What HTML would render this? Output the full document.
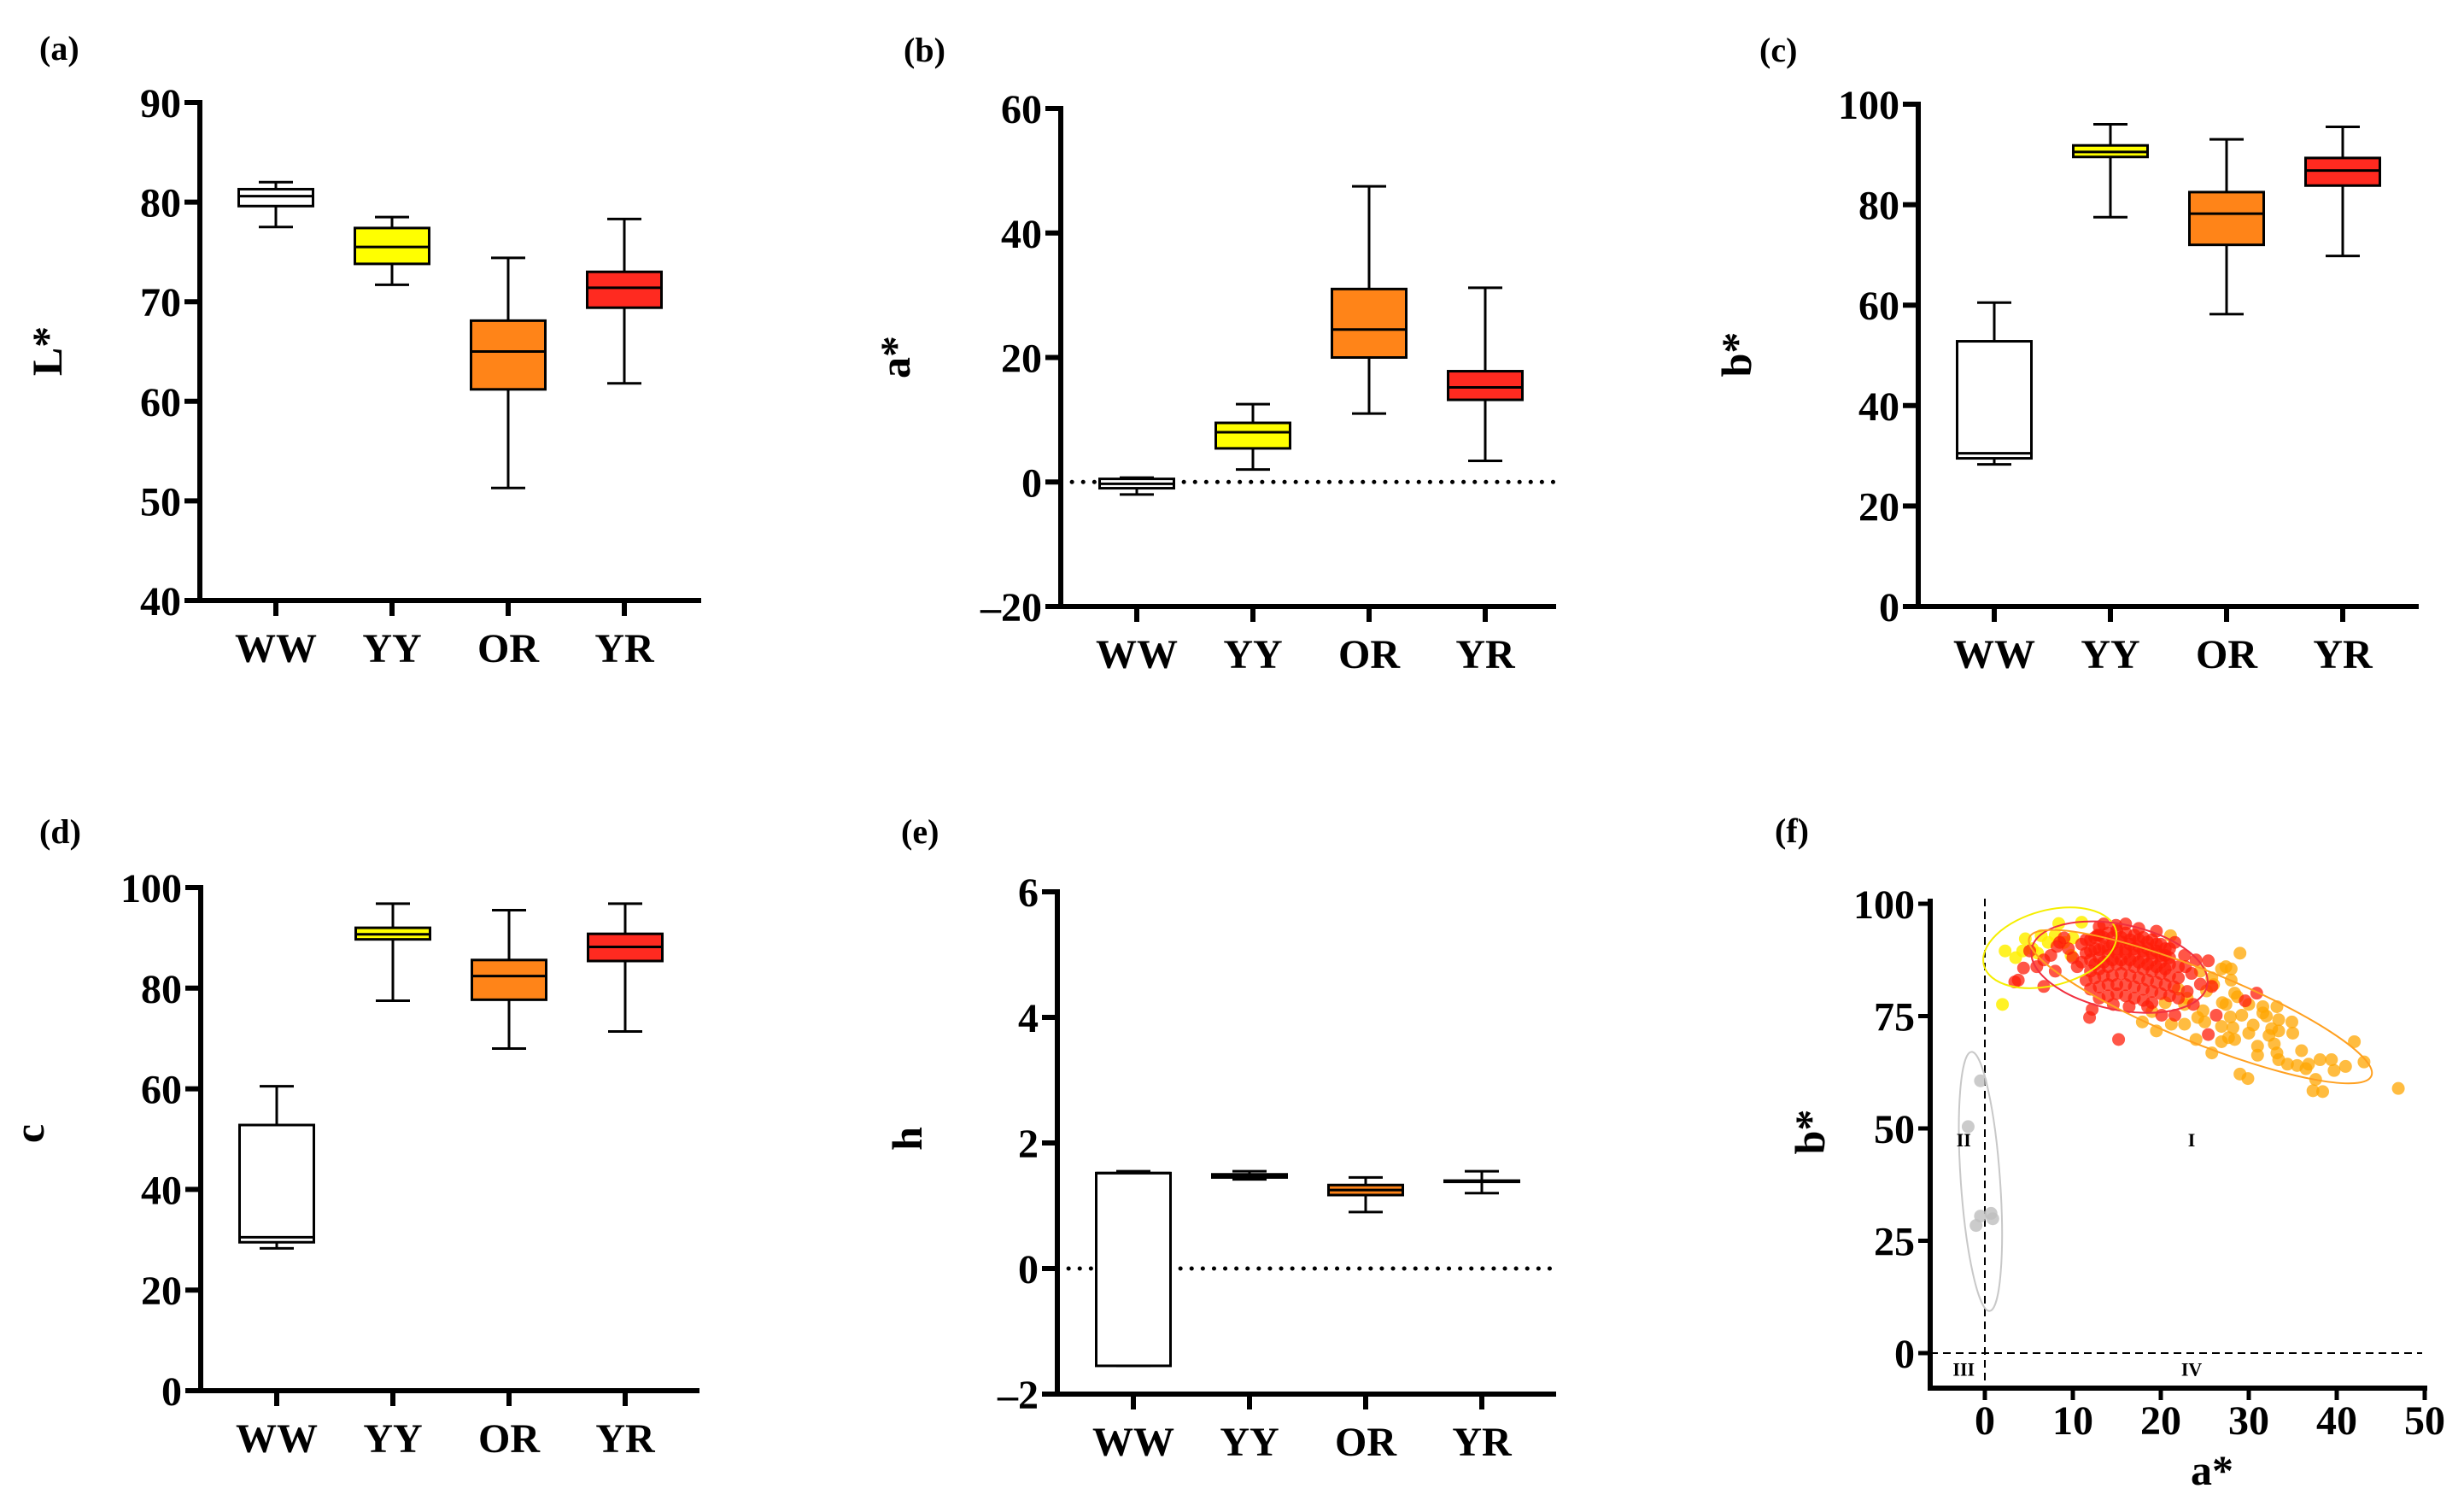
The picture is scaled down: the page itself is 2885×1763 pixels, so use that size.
<!DOCTYPE html>
<html><head><meta charset="utf-8"><style>
html,body{margin:0;padding:0;background:#fff}
svg{display:block;font-family:"Liberation Serif",serif;font-weight:bold}
</style></head><body>
<svg id="fig" width="2885" height="1763" viewBox="0 0 2885 1763" xmlns="http://www.w3.org/2000/svg" font-family="Liberation Serif, serif" font-weight="bold"></svg>
<script>
const cats=["WW","YY","OR","YR"];
const fills=["#ffffff","#ffff00","#ff8418","#ff2a20"];
// (a) L*
const lowA=[77.5,71.7,51.3,61.8], q1A=[79.6,73.8,61.2,69.4], medA=[80.6,75.5,65,71.4], q3A=[81.3,77.4,68.1,73], highA=[82,78.5,74.4,78.3];
const ticksA=[40,50,60,70,80,90];
// (b) a*
const lowB=[-2,2,11,3.4], q1B=[-1,5.4,20,13.2], medB=[-0.3,8,24.5,15.2], q3B=[0.5,9.5,31,17.8], highB=[0.7,12.5,47.5,31.2];
const ticksB=[-20,0,20,40,60];
// (c) b*
const lowC=[28.3,77.5,58.2,69.8], q1C=[29.5,89.5,72,83.8], medC=[30.5,90.5,78.2,86.8], q3C=[52.8,91.8,82.5,89.3], highC=[60.5,96,93,95.5];
const ticksC=[0,20,40,60,80,100];
// (d) c
const lowD=[28.3,77.5,68,71.4], q1D=[29.5,89.7,77.7,85.4], medD=[30.5,90.7,82.4,88.2], q3D=[52.8,92,85.6,90.8], highD=[60.5,96.8,95.5,96.8];
const ticksD=[0,20,40,60,80,100];
// (e) h
const lowE=[-1.55,1.42,0.9,1.2], q1E=[-1.55,1.45,1.17,1.38], medE=[1.52,1.48,1.25,1.39], q3E=[1.52,1.5,1.33,1.4], highE=[1.55,1.55,1.45,1.55];
const ticksE=[-2,0,2,4,6];
// (f) scatter a* vs b*
const fTicksX=[0,10,20,30,40,50];
const fTicksY=[0,25,50,75,100];
const grayA=[-0.5,-1.9,-1,-0.5,0.7,0.9];
const grayB=[60.6,50.4,28.4,30.5,31.1,29.9];
const yelA=[2.3,2,4.6,4.3,6.4,8.4,11,7.2,5.4,9,10,9.8,3.5,6,8];
const yelB=[89.5,77.6,92.2,89.5,92.9,95.6,95.9,91.4,90,91.4,92.4,88.5,88,89,93];
const orA=[29,26.9,27.4,28,25.8,28.4,28.7,30,31.6,33.2,31.6,33.4,34.9,35,33.4,32.6,32.3,32.9,31,31,33.2,33.4,34.4,36,36.8,36.5,38.1,39.4,39.7,41,42,43.1,37.3,38.4,37.6,29,29.9,25.8,26.9,27.7,28.4,28.2,27.9,26.9,24,22.7,21.2,19.5,17.9,47,24.8,24.2,25,25.2,22.7,21.1,27.4,29.2,30,23,22,26,20.5,19,24.5,28,30.5,35.5,27,32];
const orB=[89,85.5,86,85.5,83.5,80.1,79.3,77.6,77.1,77.1,75.7,74.2,73.7,71.2,71.7,72.2,70.7,68.8,68.3,66.3,66.8,65.3,64.3,67.3,64.3,63.3,65.3,65.3,62.9,63.8,69.3,64.8,58.4,58.2,60.9,62.1,61.1,66.8,69.3,70.2,69.8,72.4,74.8,72.7,69.8,73.2,73.2,71.7,73.7,58.9,76.2,74.7,73.7,80.6,77.6,92.9,77.6,75.2,71.2,79,81,82,78,76,85,83,73,64,78,75];
const redA=[3.4,3.8,4.4,5.1,6.7,5.9,8,6.7,8.5,9,11.9,12.2,15.2,14.9,13,25.4,30.9,29.6,25.4,26.3,21.6,20.1,23.7,25.8,24.5,21.6,22.7,19.5,18.5,16.4,14.6,
11,12,13,14,15,16,17,18,19,20,21,
11.5,12.5,13.5,14.5,15.5,16.5,17.5,18.5,19.5,20.5,
11,12,13,14,15,16,17,18,19,20,21,22,
12,13,14,15,16,17,18,19,20,21,22,
11.5,12.5,13.5,14.5,15.5,16.5,17.5,18.5,19.5,20.5,21.5,
12,13,14,15,16,17,18,19,20,21,
13,14,15,16,17,18,19,22,23,
10,9.5,10.5,7.5,8.2,23.5,22.8,24,17.5,16,13.5,12.8,
11.5,12.5,13.5,14.5,15.5,16.5,17.5,18.5,19.5,20.5,
12,13,14,15,16,17,18,19,20,21,
12.5,13.5,14.5,15.5,16.5,17.5,18.5,19.5,20.5];
const redB=[82.6,83,85.7,89.5,81.6,86,85,87.5,91.4,92.4,74.7,76.5,69.8,95.2,94.9,87.3,80.1,78.4,70.9,75.2,75.2,75.2,77.6,81.6,82.1,91.4,88.5,93.9,77.1,77.1,77.6,
91,92,93,93.5,94,93.5,93,92.5,92,91,90,
89,90,90.5,91,91.5,91,90.5,90,89.5,88.5,
87,87.5,88,88.5,89,89,88.5,88,87.5,87,86.5,86,
85,85.5,86,86.5,86.5,86,85.5,85,84.5,84,83.5,
83,83.5,84,84,84.5,84,83.5,83,82.5,82,81.5,
81,81.5,82,82,82,81.5,81,80.5,80,79.5,
79,79.5,80,79.5,79,78.5,78,79,80.5,
88,90,86,88.5,90.5,84.5,86,87.5,94.5,95.5,95.5,93,
92,92.5,92.5,92.5,92.5,92,92,91.5,91,90,
89.5,89.8,90,90,90,90,89.5,89,88.5,88,
86.5,87,87.5,87.5,87.5,87,86.5,86,85.5];

const NS="http://www.w3.org/2000/svg";
const svg=document.getElementById('fig');
function mk(tag,attrs,parent){const e=document.createElementNS(NS,tag);for(const k in attrs)e.setAttribute(k,attrs[k]);(parent||svg).appendChild(e);return e;}
function txt(s,attrs,parent){const e=mk('text',attrs,parent);e.textContent=s;return e;}

function boxPanel(cfg){
  const g=mk('g',{});
  
  
  const ys=v=>cfg.yBot+(v-cfg.vMin)/(cfg.vMax-cfg.vMin)*(cfg.yTop-cfg.yBot);
  const cx=i=>cfg.ax+89+i*136;
  if(cfg.zero){const z=mk('line',{x1:cfg.ax,x2:cfg.right,y1:ys(0),y2:ys(0),stroke:'#000','stroke-width':5,'stroke-dasharray':'0.1 13','stroke-linecap':'round'},g);
    }
  cats.forEach((c,i)=>{
    const bg=mk('g',{},g);
    
    
    const x=cx(i),w=87,cw=40;
    mk('line',{x1:x,x2:x,y1:ys(cfg.hi[i]),y2:ys(cfg.q3[i]),stroke:'#000','stroke-width':3},bg);
    mk('line',{x1:x,x2:x,y1:ys(cfg.lo[i]),y2:ys(cfg.q1[i]),stroke:'#000','stroke-width':3},bg);
    mk('line',{x1:x-cw/2,x2:x+cw/2,y1:ys(cfg.hi[i]),y2:ys(cfg.hi[i]),stroke:'#000','stroke-width':3},bg);
    mk('line',{x1:x-cw/2,x2:x+cw/2,y1:ys(cfg.lo[i]),y2:ys(cfg.lo[i]),stroke:'#000','stroke-width':3},bg);
    mk('rect',{x:x-w/2,y:ys(cfg.q3[i]),width:w,height:Math.max(1,ys(cfg.q1[i])-ys(cfg.q3[i])),fill:fills[i],stroke:'#000','stroke-width':3},bg);
    mk('line',{x1:x-w/2,x2:x+w/2,y1:ys(cfg.med[i]),y2:ys(cfg.med[i]),stroke:'#000','stroke-width':3},bg);
    mk('line',{x1:x,x2:x,y1:cfg.yBot,y2:cfg.yBot+18,stroke:'#000','stroke-width':6},g);
    const t=txt(c,{x:x,y:cfg.yBot+72,'font-size':48,'text-anchor':'middle'},g);
    
    
  });
  const ya=mk('line',{x1:cfg.ax,x2:cfg.ax,y1:cfg.yTop-3,y2:cfg.yBot+3,stroke:'#000','stroke-width':6},g);
  
  const xa=mk('line',{x1:cfg.ax-3,x2:cfg.right,y1:cfg.yBot,y2:cfg.yBot,stroke:'#000','stroke-width':6},g);
  
  cfg.ticks.forEach(v=>{
    mk('line',{x1:cfg.ax-18,x2:cfg.ax,y1:ys(v),y2:ys(v),stroke:'#000','stroke-width':6},g);
    const t=txt((v<0?'\u2013'+(-v):String(v)),{x:cfg.ax-22,y:ys(v)+17,'font-size':48,'text-anchor':'end'},g);
    
    
  });
  const yt=txt(cfg.title,{transform:`translate(${cfg.tx+16},${cfg.ty}) rotate(-90)`,'font-size':50,'text-anchor':'middle'},g);
  
  const pl=txt(cfg.label,{x:cfg.lx,y:cfg.ly,'font-size':40},g);
  
}

boxPanel({name:'panel-a-lightness',ax:234,right:821,yBot:703,yTop:120,vMin:40,vMax:90,ticks:ticksA,lo:lowA,q1:q1A,med:medA,q3:q3A,hi:highA,title:'L*',tx:56,ty:411,label:'(a)',lx:46,ly:70});
boxPanel({name:'panel-b-a-star',ax:1242,right:1822,yBot:710,yTop:127,vMin:-20,vMax:60,ticks:ticksB,lo:lowB,q1:q1B,med:medB,q3:q3B,hi:highB,zero:true,title:'a*',tx:1049,ty:418,label:'(b)',lx:1058,ly:72});
boxPanel({name:'panel-c-b-star',ax:2246,right:2832,yBot:710,yTop:122,vMin:0,vMax:100,ticks:ticksC,lo:lowC,q1:q1C,med:medC,q3:q3C,hi:highC,title:'b*',tx:2034,ty:415,label:'(c)',lx:2060,ly:72});
boxPanel({name:'panel-d-chroma',ax:235,right:819,yBot:1628,yTop:1039,vMin:0,vMax:100,ticks:ticksD,lo:lowD,q1:q1D,med:medD,q3:q3D,hi:highD,title:'c',tx:35,ty:1327,label:'(d)',lx:46,ly:987});
boxPanel({name:'panel-e-hue',ax:1238,right:1822,yBot:1632,yTop:1044,vMin:-2,vMax:6,ticks:ticksE,lo:lowE,q1:q1E,med:medE,q3:q3E,hi:highE,zero:true,title:'h',tx:1063,ty:1333,label:'(e)',lx:1055,ly:987});

// panel f
(function(){
  const g=mk('g',{});
  
  
  const AX=2260, AXB=1625;
  const xs=v=>2324+v*(2839-2324)/50;
  const ys=v=>1584+v*(1058-1584)/100;
  const dash={stroke:'#000','stroke-width':2,'stroke-dasharray':'9 6'};
  const dv=mk('line',Object.assign({x1:xs(0),x2:xs(0),y1:1052,y2:AXB},dash),g);
  
  const dh=mk('line',Object.assign({x1:AX,x2:2836,y1:ys(0),y2:ys(0)},dash),g);
  
  function pts(A,B,col,name){
    const pg=mk('g',{},g);
    
    
    A.forEach((a,i)=>{const c=mk('circle',{cx:xs(a),cy:ys(B[i]),r:7.5,fill:col},pg);
      
      });
  }
  pts(grayA,grayB,'rgba(190,190,190,0.8)','points-ww');
  pts(yelA,yelB,'rgba(255,240,0,0.85)','points-yy');
  pts(orA,orB,'rgba(255,165,0,0.75)','points-or');
  pts(redA,redB,'rgba(255,30,10,0.75)','points-yr');
  function ell(a,b,rx,ry,rot,col,name){
    const e=mk('ellipse',{cx:0,cy:0,rx:rx,ry:ry,fill:'none',stroke:col,'stroke-width':2,transform:`translate(${xs(a)},${ys(b)}) rotate(${rot})`},g);
    
  }
  ell(7.4,90.2,80,44,-15,'#f5ee00','ellipse-yy');
  ell(15.3,85.9,105,50,12,'#f03040','ellipse-yr');
  ell(24.5,77.1,216,42,22,'#ffa020','ellipse-or');
  ell(-0.5,38.2,23,152,-4,'#c8c8c8','ellipse-ww');
  const ya=mk('line',{x1:AX,x2:AX,y1:1052,y2:AXB+3,stroke:'#000','stroke-width':6},g);
  
  const xa=mk('line',{x1:AX-3,x2:2842,y1:AXB,y2:AXB,stroke:'#000','stroke-width':6},g);
  
  fTicksY.forEach(v=>{
    mk('line',{x1:AX-14,x2:AX,y1:ys(v),y2:ys(v),stroke:'#000','stroke-width':5},g);
    const t=txt(String(v),{x:AX-18,y:ys(v)+17,'font-size':48,'text-anchor':'end'},g);
    
  });
  fTicksX.forEach(v=>{
    mk('line',{x1:xs(v),x2:xs(v),y1:AXB,y2:AXB+14,stroke:'#000','stroke-width':5},g);
    const t=txt(String(v),{x:xs(v),y:1679,'font-size':48,'text-anchor':'middle'},g);
    
  });
  [['II',-2.4,46],['I',23.5,46],['III',-2.4,-5],['IV',23.5,-5]].forEach(q=>{
    const t=txt(q[0],{x:xs(q[1]),y:ys(q[2]),'font-size':22,'text-anchor':'middle'},g);
    
  });
  const xt=txt('a*',{x:2590,y:1738,'font-size':50,'text-anchor':'middle'},g);
  
  const yt=txt('b*',{transform:'translate(2136,1325) rotate(-90)','font-size':50,'text-anchor':'middle'},g);
  
  const pl=txt('(f)',{x:2078,y:986,'font-size':40},g);
  
})();
</script>
</body></html>
